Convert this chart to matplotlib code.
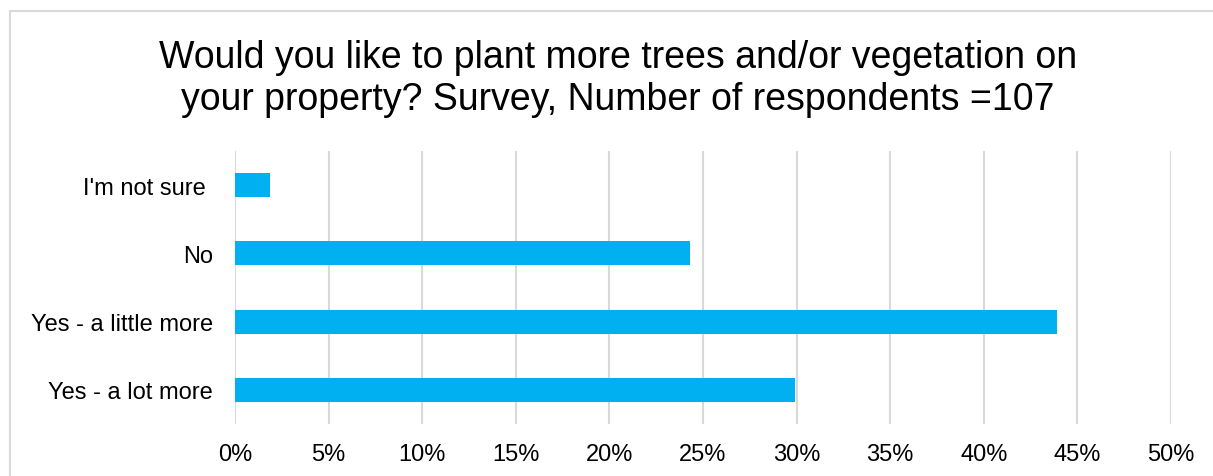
import matplotlib
matplotlib.use("Agg")
import matplotlib.pyplot as plt
from matplotlib.ticker import FuncFormatter, MultipleLocator
from matplotlib.lines import Line2D

plt.rcParams['font.family'] = ['Liberation Sans', 'DejaVu Sans']

categories = ["Yes - a lot more", "Yes - a little more", "No", "I'm not sure "]
counts = [32, 47, 26, 2]
respondents = 107
shares = [c / respondents for c in counts]

title = ("Would you like to plant more trees and/or vegetation on\n"
         "your property? Survey, Number of respondents =107")

W, H = 1213, 477
fig = plt.figure(figsize=(W / 100, H / 100), dpi=100)

# chart frame (left and top edges)
fig.add_artist(Line2D([10 / W, 10 / W], [0, 1 - 12 / H], transform=fig.transFigure,
                      color="#D9D9D9", lw=1.5))
fig.add_artist(Line2D([10 / W, 1], [1 - 12 / H, 1 - 12 / H], transform=fig.transFigure,
                      color="#D9D9D9", lw=1.5))

ax = fig.add_axes([235 / W, 1 - 425 / H, (1171 - 235) / W, (425 - 152) / H])
y = range(len(categories))
ax.barh(y, shares, height=0.35, color="#00B0F0", zorder=3)
ax.set_xlim(0, 0.5)
ax.set_ylim(-0.5, len(categories) - 0.5)
ax.set_yticks(list(y))
ax.set_yticklabels(categories)
ax.xaxis.set_major_locator(MultipleLocator(0.05))
ax.xaxis.set_major_formatter(FuncFormatter(lambda v, p: f"{round(v * 100)}%"))
ax.grid(axis="x", color="#D9D9D9", lw=1.5, zorder=0)
for s in ax.spines.values():
    s.set_visible(False)
ax.tick_params(axis="both", length=0, labelsize=17, colors="#000000")
ax.tick_params(axis="x", pad=14)
ax.tick_params(axis="y", pad=16)

fig.text(618 / W, 1 - 79 / H, title, ha="center", va="center", fontsize=27,
         linespacing=1.2, color="#000000")

fig.savefig("out.png", dpi=100, facecolor="white")
